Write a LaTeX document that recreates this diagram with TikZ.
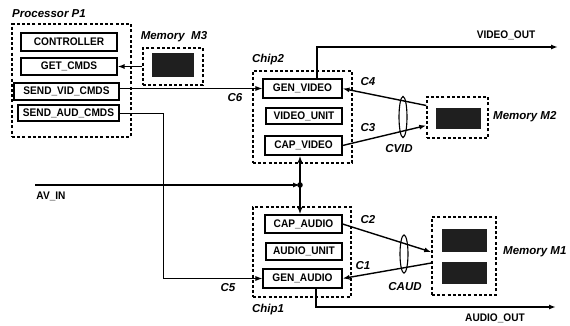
\documentclass[tikz,border=0pt]{standalone}
\usepackage{fontspec}
\setmainfont{Liberation Sans}
\newfontfamily\condsans[FakeStretch=0.92]{Liberation Sans}
\usetikzlibrary{arrows.meta,shapes.geometric}
\begin{document}
\begin{tikzpicture}[x=1pt,y=-1pt,
  unit/.style={draw,line width=1.1pt,inner sep=0pt,font=\condsans\fontsize{11}{12}\selectfont\bfseries},
  dbox/.style={draw,line width=1.5pt,dash pattern=on 3pt off 2.2pt,inner sep=0pt},
  mem/.style={fill=black!88,draw=black!88,inner sep=0pt},
  lab/.style={font=\fontsize{11.5}{12}\selectfont\bfseries\itshape,inner sep=0pt},
  sig/.style={font=\condsans\fontsize{11}{12}\selectfont\bfseries,inner sep=0pt},
  ring/.style={draw,ellipse,line width=1.1pt,inner sep=0pt,minimum width=8pt},
  arr/.style={-{Latex[length=7pt,width=5pt]}},
  thin/.style={line width=0.9pt},
  thk/.style={line width=1.4pt}]
\useasboundingbox (0,0) rectangle (570,325);

% Processor P1
\node[lab] (lp1) at (49,14) {Processor P1};
\node[dbox,minimum width=119pt,minimum height=113pt] (p1) at (71.5,80.5) {};
\node[unit,minimum width=96pt,minimum height=18pt] (ctrl) at (69,42) {CONTROLLER};
\node[unit,minimum width=96pt,minimum height=17pt] (getc) at (69,66.5) {GET\_CMDS};
\node[unit,minimum width=105pt,minimum height=17pt] (svid) at (66.5,91.5) {SEND\_VID\_CMDS};
\node[unit,minimum width=101pt,minimum height=16pt] (saud) at (68.5,113) {SEND\_AUD\_CMDS};

% Memory M3
\node[lab] (lm3) at (174,37) {Memory\ \ M3};
\node[dbox,minimum width=60pt,minimum height=37pt] (m3) at (173,66.5) {};
\node[mem,minimum width=41pt,minimum height=23pt] (m3b) at (172.5,65) {};

% Chip2
\node[lab] (lc2) at (268,60) {Chip2};
\node[dbox,minimum width=99pt,minimum height=92pt] (c2) at (302.5,117) {};
\node[unit,minimum width=79pt,minimum height=19pt] (genv) at (302.5,88.5) {GEN\_VIDEO};
\node[unit,minimum width=76pt,minimum height=16pt] (vunit) at (304,116) {VIDEO\_UNIT};
\node[unit,minimum width=77pt,minimum height=19pt] (capv) at (303.5,145.5) {CAP\_VIDEO};

% Chip1
\node[lab] (lc1) at (268,310) {Chip1};
\node[dbox,minimum width=98pt,minimum height=90pt] (c1) at (302,252) {};
\node[unit,minimum width=77pt,minimum height=18pt] (capa) at (303.5,224) {CAP\_AUDIO};
\node[unit,minimum width=76pt,minimum height=17pt] (aunit) at (304,251.5) {AUDIO\_UNIT};
\node[unit,minimum width=79pt,minimum height=19pt] (gena) at (302.5,278.5) {GEN\_AUDIO};

% Memory M2
\node[dbox,minimum width=61pt,minimum height=41pt] (m2) at (457.5,117.5) {};
\node[mem,minimum width=44pt,minimum height=20pt] (m2b) at (458,118) {};
\node[lab,anchor=west] (lm2) at (493,117) {Memory M2};

% Memory M1
\node[dbox,minimum width=64pt,minimum height=78pt] (m1) at (464,256) {};
\node[mem,minimum width=44pt,minimum height=22pt] (m1a) at (464,240) {};
\node[mem,minimum width=44pt,minimum height=21pt] (m1b) at (464,272.5) {};
\node[lab,anchor=west] (lm1) at (503,252) {Memory M1};

% M3 -> GET_CMDS
\draw[thk,arr] (m3.west |- getc.east) -- (getc.east);

% C6
\draw[thin,arr] (svid.east |- genv.west) -- (genv.west);
\node[lab] (lc6) at (235,98) {C6};

% C5
\coordinate (c5x) at (163,0);
\draw[thin,arr] (saud.east) -| (c5x |- gena.west) -- (gena.west);
\node[lab] (lc5) at (228,288) {C5};

% AV_IN
\coordinate (avin) at (35,185);
\coordinate (junc) at (300,185);
\node[sig] (lav) at (51,196) {AV\_IN};
\draw[line width=1.9pt,arr] (avin) -- (junc);
\fill (junc) circle (2.8pt);
\draw[line width=1.9pt,arr] (junc) -- (junc |- capv.south);
\draw[line width=1.9pt,arr] (junc) -- (junc |- capa.north);

% C4 / C3 with CVID
\draw[thk,arr] ([yshift=12pt]m2.west) -- (genv.east);
\draw[thk,arr] (capv.east) -- ([yshift=-8pt]m2.west);
\node[ring,minimum height=41pt] (cvid) at (403,117) {};
\node[lab] (lc4) at (368,82) {C4};
\node[lab] (lc3) at (368,128) {C3};
\node[lab] (lcvid) at (399,149) {CVID};

% C2 / C1 with CAUD
\draw[thk,arr] (capa.east) -- ([yshift=4pt]m1.west);
\draw[thk,arr] ([yshift=-7pt]m1.west) -- (gena.east);
\node[ring,minimum height=38pt] (caud) at (404,254) {};
\node[lab] (lcc2) at (368,220) {C2};
\node[lab] (lcc1) at (363,266) {C1};
\node[lab] (lcaud) at (405,287) {CAUD};

% VIDEO_OUT
\coordinate (vout) at (558,47);
\draw[thk,arr] ([xshift=14.5pt]genv.north) |- (vout);
\node[sig] (lvout) at (506,35) {VIDEO\_OUT};

% AUDIO_OUT
\coordinate (aout) at (556,307);
\draw[thk,arr] ([xshift=13.5pt]gena.south) |- (aout);
\node[sig] (laout) at (495,318) {AUDIO\_OUT};
\end{tikzpicture}
\end{document}
